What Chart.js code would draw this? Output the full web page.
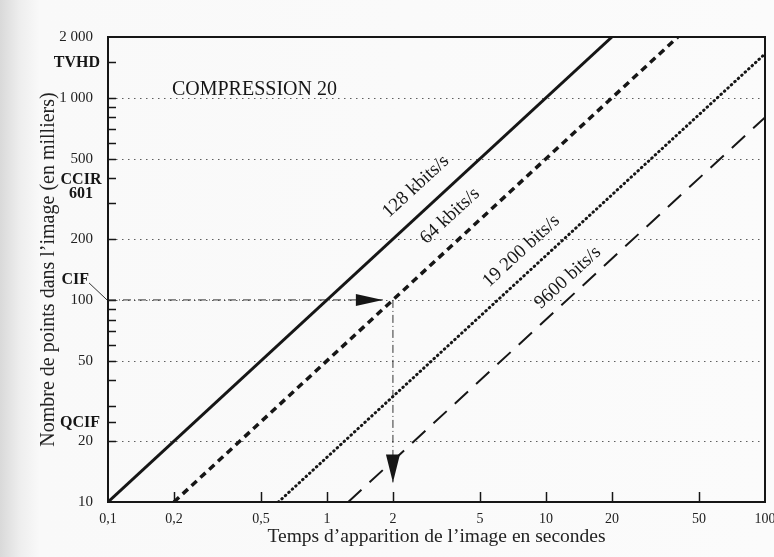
<!DOCTYPE html>
<html lang="fr">
<head>
  <meta charset="UTF-8">
  <title>Compression 20</title>
  <style>
    html, body { margin: 0; padding: 0; }
    body {
      width: 774px;
      height: 557px;
      overflow: hidden;
      background: linear-gradient(90deg, #d9d9d9 0px, #eeeeee 20px, #f9f9f9 40px, #fbfbfb 100%);
    }
    canvas { display: block; }
  </style>
  <script src="https://cdn.jsdelivr.net/npm/chart.js"></script>
</head>
<body>
  <canvas id="chart" width="774" height="557"></canvas>

  <script>
    // each line: time (s) and number of points (thousands) at its two ends
    const rates = ['128 kbits/s', '64 kbits/s', '19 200 bits/s', '9600 bits/s'];
    const timeStart = [0.1, 0.2, 0.6, 1.25];
    const timeEnd = [20, 40, 100, 100];
    const pointsStart = [10, 10, 10, 10];
    const pointsEnd = [2000, 2000, 1650, 800];
    const labelTime = [3, 4.3, 8.9, 14.1]; // where each line label sits

    // CIF example: 100 000 points -> 2 s at 64 kbits/s
    const cifX = [0.1, 1.8];
    const cifY = [100, 100];
    const downX = [2, 2];
    const downY = [100, 12.5];

    // picture formats marked on the y axis
    const formatNames = ['TVHD', ['CCIR', '601'], 'CIF', 'QCIF'];
    const formatPoints = [1500, 400, 100, 25];

    const xTicks = [0.1, 0.2, 0.5, 1, 2, 5, 10, 20, 50, 100];
    const yTicks = [10, 20, 50, 100, 200, 500, 1000, 2000];
    const yTickLabels = ['10', '20', '50', '100', '200', '500', '1 000', '2 000'];
    const yMinor = [25, 30, 40, 60, 70, 80, 90, 300, 400, 600, 700, 800, 900, 1500];
    const yGrid = [20, 50, 100, 200, 500, 1000];

    const serif = "'Liberation Serif', 'DejaVu Serif', serif";
    const ink = '#161616';

    const lineStyles = [
      { borderWidth: 3, borderDash: [], cap: 'butt' },
      { borderWidth: 3.5, borderDash: [7, 5], cap: 'butt' },
      { borderWidth: 3, borderDash: [0.5, 4.2], cap: 'round' },
      { borderWidth: 2, borderDash: [18, 11], cap: 'butt' }
    ];

    const datasets = rates.map((r, i) => ({
      label: r,
      data: [{ x: timeStart[i], y: pointsStart[i] }, { x: timeEnd[i], y: pointsEnd[i] }],
      borderColor: ink,
      borderWidth: lineStyles[i].borderWidth,
      borderDash: lineStyles[i].borderDash,
      borderCapStyle: lineStyles[i].cap,
      pointRadius: 0,
      tension: 0,
      fill: false
    }));
    datasets.push({
      label: 'cif',
      data: cifX.map((x, i) => ({ x, y: cifY[i] })),
      borderColor: '#333',
      borderWidth: 1,
      borderDash: [8, 3, 1, 3],
      pointRadius: 0
    });
    datasets.push({
      label: 'down',
      data: downX.map((x, i) => ({ x, y: downY[i] })),
      borderColor: '#333',
      borderWidth: 1,
      borderDash: [8, 3, 1, 3],
      pointRadius: 0
    });

    const decor = {
      id: 'decor',
      beforeDatasetsDraw(chart) {
        const { ctx, chartArea: a, scales: { x, y } } = chart;
        ctx.save();
        // dotted horizontal lines
        ctx.strokeStyle = '#5e5e5e';
        ctx.lineWidth = 1;
        ctx.setLineDash([1.5, 4.5]);
        yGrid.forEach(v => {
          const py = Math.round(y.getPixelForValue(v)) + 0.5;
          ctx.beginPath();
          ctx.moveTo(a.left + 8, py);
          ctx.lineTo(a.right, py);
          ctx.stroke();
        });
        // inward tick marks
        ctx.setLineDash([]);
        ctx.strokeStyle = ink;
        ctx.lineWidth = 1.5;
        yTicks.concat(yMinor).forEach(v => {
          if (v === 10 || v === 2000) return;
          const py = Math.round(y.getPixelForValue(v)) + 0.5;
          ctx.beginPath();
          ctx.moveTo(a.left, py);
          ctx.lineTo(a.left + 8, py);
          ctx.stroke();
        });
        xTicks.slice(1, -1).forEach(v => {
          const px = Math.round(x.getPixelForValue(v)) + 0.5;
          ctx.beginPath();
          ctx.moveTo(px, a.bottom);
          ctx.lineTo(px, a.bottom - 10);
          ctx.stroke();
        });
        ctx.restore();
      },
      afterDatasetsDraw(chart) {
        const { ctx, chartArea: a, scales: { x, y } } = chart;
        ctx.save();
        // frame
        ctx.strokeStyle = ink;
        ctx.lineWidth = 2;
        ctx.strokeRect(a.left, a.top, a.right - a.left, a.bottom - a.top);

        // arrow heads
        ctx.fillStyle = ink;
        let tx = x.getPixelForValue(cifX[1]), ty = y.getPixelForValue(cifY[1]);
        ctx.beginPath();
        ctx.moveTo(tx, ty);
        ctx.lineTo(tx - 27, ty - 6);
        ctx.lineTo(tx - 27, ty + 6);
        ctx.closePath();
        ctx.fill();
        tx = x.getPixelForValue(downX[1]);
        ty = y.getPixelForValue(downY[1]);
        ctx.beginPath();
        ctx.moveTo(tx, ty);
        ctx.lineTo(tx - 7, ty - 28);
        ctx.lineTo(tx + 7, ty - 28);
        ctx.closePath();
        ctx.fill();

        // labels along the lines
        const offsets = [23, 23, 20, 16];
        ctx.font = '19px ' + serif;
        ctx.textAlign = 'center';
        ctx.textBaseline = 'middle';
        rates.forEach((r, i) => {
          const x0 = x.getPixelForValue(timeStart[i]), y0 = y.getPixelForValue(pointsStart[i]);
          const x1 = x.getPixelForValue(timeEnd[i]), y1 = y.getPixelForValue(pointsEnd[i]);
          const ang = Math.atan2(y1 - y0, x1 - x0);
          const px = x.getPixelForValue(labelTime[i]);
          const py = y0 + (px - x0) / (x1 - x0) * (y1 - y0);
          const cx = px + offsets[i] * Math.sin(ang);
          const cy = py - offsets[i] * Math.cos(ang);
          ctx.save();
          ctx.translate(cx, cy);
          ctx.rotate(ang);
          ctx.fillText(r, 0, 0);
          ctx.restore();
        });

        // title inside the plot
        ctx.textAlign = 'left';
        ctx.textBaseline = 'alphabetic';
        ctx.font = '20px ' + serif;
        ctx.fillText('COMPRESSION 20', x.getPixelForValue(0.2) - 2, y.getPixelForValue(1000) - 3);

        // picture formats, bold, left of the axis
        ctx.font = 'bold 16px ' + serif;
        ctx.textBaseline = 'middle';
        formatNames.forEach((name, i) => {
          const py = y.getPixelForValue(formatPoints[i]);
          if (Array.isArray(name)) {
            ctx.textAlign = 'center';
            ctx.fillText(name[0], a.left - 27, py + 2);
            ctx.fillText(name[1], a.left - 27, py + 16);
          } else if (name === 'CIF') {
            ctx.textAlign = 'right';
            ctx.fillText(name, a.left - 19, py - 20);
            ctx.strokeStyle = '#333';
            ctx.lineWidth = 1;
            ctx.beginPath();
            ctx.moveTo(a.left - 19, py - 17);
            ctx.lineTo(a.left - 1, py);
            ctx.stroke();
          } else {
            ctx.textAlign = 'right';
            ctx.fillText(name, a.left - 8, py + 1);
          }
        });
        ctx.restore();
      }
    };

    new Chart(document.getElementById('chart'), {
      type: 'line',
      data: { datasets },
      plugins: [decor],
      options: {
        responsive: false,
        animation: false,
        devicePixelRatio: 1,
        layout: { padding: { top: 37, right: 9, bottom: 0, left: 0 } },
        plugins: {
          legend: { display: false },
          tooltip: { enabled: false }
        },
        scales: {
          x: {
            type: 'logarithmic',
            min: 0.1,
            max: 100,
            grid: { display: false, drawTicks: false },
            border: { display: false },
            afterBuildTicks: s => { s.ticks = xTicks.map(v => ({ value: v })); },
            afterFit: s => { s.height = 55; s.paddingLeft = 0; s.paddingRight = 0; },
            ticks: {
              autoSkip: false,
              maxRotation: 0,
              padding: 9,
              color: '#222',
              font: { family: serif, size: 14 },
              callback: v => String(v).replace('.', ',')
            },
            title: {
              display: true,
              text: 'Temps d\u2019apparition de l\u2019image en secondes',
              color: '#222',
              font: { family: serif, size: 19.5 },
              padding: { top: 0, bottom: 8 }
            }
          },
          y: {
            type: 'logarithmic',
            min: 10,
            max: 2000,
            grid: { display: false, drawTicks: false },
            border: { display: false },
            afterBuildTicks: s => { s.ticks = yTicks.map(v => ({ value: v })); },
            afterFit: s => { s.width = 108; s.paddingTop = 0; s.paddingBottom = 0; },
            ticks: {
              autoSkip: false,
              padding: 15,
              color: '#222',
              font: { family: serif, size: 15 },
              callback: v => yTickLabels[yTicks.indexOf(v)]
            },
            title: {
              display: true,
              text: 'Nombre de points dans l\u2019image (en milliers)',
              color: '#222',
              font: { family: serif, size: 20 },
              padding: { top: 37, bottom: 0 }
            }
          }
        }
      }
    });
  </script>
</body>
</html>
